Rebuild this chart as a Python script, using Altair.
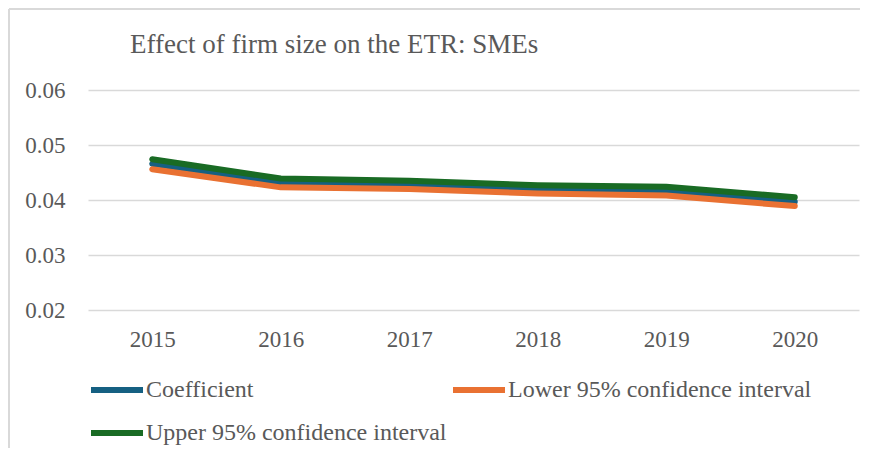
import altair as alt
import pandas as pd

years = ["2015", "2016", "2017", "2018", "2019", "2020"]
coefficient = [0.0466, 0.0432, 0.0427, 0.0419, 0.0417, 0.0397]
lower_ci = [0.0456, 0.0423, 0.0420, 0.0412, 0.0408, 0.0389]
upper_ci = [0.0474, 0.0439, 0.0435, 0.0427, 0.0424, 0.0405]

series_names = ["Coefficient", "Lower 95% confidence interval", "Upper 95% confidence interval"]
# legend is filled column by column
legend_order = ["Coefficient", "Upper 95% confidence interval", "Lower 95% confidence interval"]
legend_colors = ["#156082", "#196B24", "#E97132"]
title_text = "Effect of firm size on the ETR: SMEs"

rows = []
for name, vals in zip(series_names, [coefficient, lower_ci, upper_ci]):
    for y, v in zip(years, vals):
        rows.append({"Year": y, "Value": v, "Series": name, "Draw": series_names.index(name)})
df = pd.DataFrame(rows)

FONT = "Liberation Serif"
GRAY = "#595959"

lines = alt.Chart(df).mark_line(strokeWidth=6, strokeCap="round", strokeJoin="round").encode(
    x=alt.X("Year:O", sort=years, title=None,
            axis=alt.Axis(labelAngle=0, domain=False, ticks=False, labelPadding=18,
                          labelFont=FONT, labelFontSize=23, labelColor=GRAY)),
    y=alt.Y("Value:Q", title=None,
            scale=alt.Scale(domain=[0.02, 0.06], nice=False, zero=False),
            axis=alt.Axis(values=[0.02, 0.03, 0.04, 0.05, 0.06], format=".2f",
                          domain=False, ticks=False, labelPadding=23,
                          labelFont=FONT, labelFontSize=23, labelColor=GRAY,
                          gridColor="#d9d9d9", gridWidth=1.5)),
    color=alt.Color("Series:N",
                    scale=alt.Scale(domain=legend_order, range=legend_colors),
                    legend=alt.Legend(title=None, orient="none", legendX=0, legendY=288,
                                      columns=2, columnPadding=3, rowPadding=19,
                                      clipHeight=24,
                                      symbolType="stroke", symbolSize=2704,
                                      symbolStrokeWidth=6, labelOffset=0,
                                      labelFont=FONT, labelFontSize=24, labelColor=GRAY,
                                      labelLimit=500)),
    order=alt.Order("Draw:Q"),
)

one = pd.DataFrame({"t": [title_text]})
frame_top = alt.Chart(one).mark_rule(color="#d9d9d9", strokeWidth=2).encode(
    x=alt.value(-79), x2=alt.value(772), y=alt.value(-81))
frame_left = alt.Chart(one).mark_rule(color="#d9d9d9", strokeWidth=2).encode(
    x=alt.value(-79), y=alt.value(-81), y2=alt.value(358))
title = alt.Chart(one).mark_text(
    align="left", baseline="alphabetic", font=FONT, fontSize=27, color=GRAY
).encode(x=alt.value(42), y=alt.value(-37), text="t:N")

chart = alt.layer(frame_top, frame_left, title, lines).properties(
    width=771,
    height=220,
    autosize=alt.AutoSizeParams(type="none"),
    padding={"left": 80, "top": 82, "right": 5, "bottom": 143},
).configure(font=FONT).configure_view(stroke=None).configure_scale(pointPadding=0.5)

chart.save("out.html", embed_options={"renderer": "svg", "actions": False})
